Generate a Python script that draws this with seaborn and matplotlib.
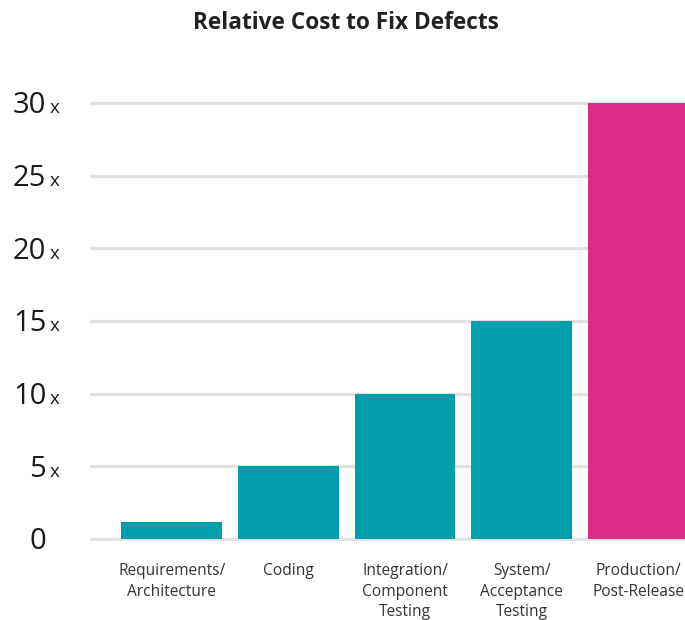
import matplotlib
matplotlib.use("Agg")
import matplotlib.pyplot as plt
import seaborn as sns
import pandas as pd

categories = ["Requirements/\nArchitecture", "Coding", "Integration/\nComponent\nTesting",
              "System/\nAcceptance\nTesting", "Production/\nPost-Release"]
values = [1.2, 5, 10, 15, 30]
colors = ["#009FAB", "#009FAB", "#009FAB", "#009FAB", "#DB2B85"]
yticks = [0, 5, 10, 15, 20, 25, 30]
ytick_nums = ["0", "5", "10", "15", "20", "25", "30"]
ytick_suffix = ["", "x", "x", "x", "x", "x", "x"]
title = "Relative Cost to Fix Defects"

sns.set_theme(style="white")
plt.rcParams["font.family"] = ["Open Sans", "DejaVu Sans"]

df = pd.DataFrame({"stage": categories, "cost": values})

fig = plt.figure(figsize=(6.85, 6.2), dpi=100)
ax = fig.add_axes([90 / 685, 1 - 541.2 / 620, 1 - 90 / 685, (541.2 - 98.6) / 620])

sns.barplot(data=df, x="stage", y="cost", hue="stage", palette=colors,
            legend=False, width=0.865, saturation=1, linewidth=0,
            edgecolor="none", ax=ax, zorder=2)

ax.set_xlim(-0.7, 4.40)
ax.set_ylim(-0.15, 30.3)
ax.set_yticks(yticks)
ax.yaxis.grid(True, color="#E2E2E2", linewidth=2.4, zorder=0)
ax.set_axisbelow(True)
ax.set_yticklabels([])
ax.tick_params(axis="y", length=0)
ax.tick_params(axis="x", length=0, pad=16, labelsize=11.2, labelcolor="#333333")
for lab in ax.get_xticklabels():
    lab.set_linespacing(1.34)
    lab.set_verticalalignment("top")
ax.set_xlabel("")
ax.set_ylabel("")
for s in ax.spines.values():
    s.set_visible(False)

for yv, num, suf in zip(yticks, ytick_nums, ytick_suffix):
    ax.annotate(num, xy=(0, yv), xycoords=("axes fraction", "data"),
                xytext=(-31.5, -7.5), textcoords="offset points",
                ha="right", va="baseline", fontsize=21, color="#1a1a1a",
                annotation_clip=False)
    if suf:
        ax.annotate(suf, xy=(0, yv), xycoords=("axes fraction", "data"),
                    xytext=(-29.0, -7.5), textcoords="offset points",
                    ha="left", va="baseline", fontsize=13.5, color="#1a1a1a",
                    annotation_clip=False)

fig.text(0.505, 1 - 23 / 620, title, ha="center", va="center",
         fontsize=16.3, fontweight="bold", color="#222222")

fig.savefig("out.png", dpi=100)
